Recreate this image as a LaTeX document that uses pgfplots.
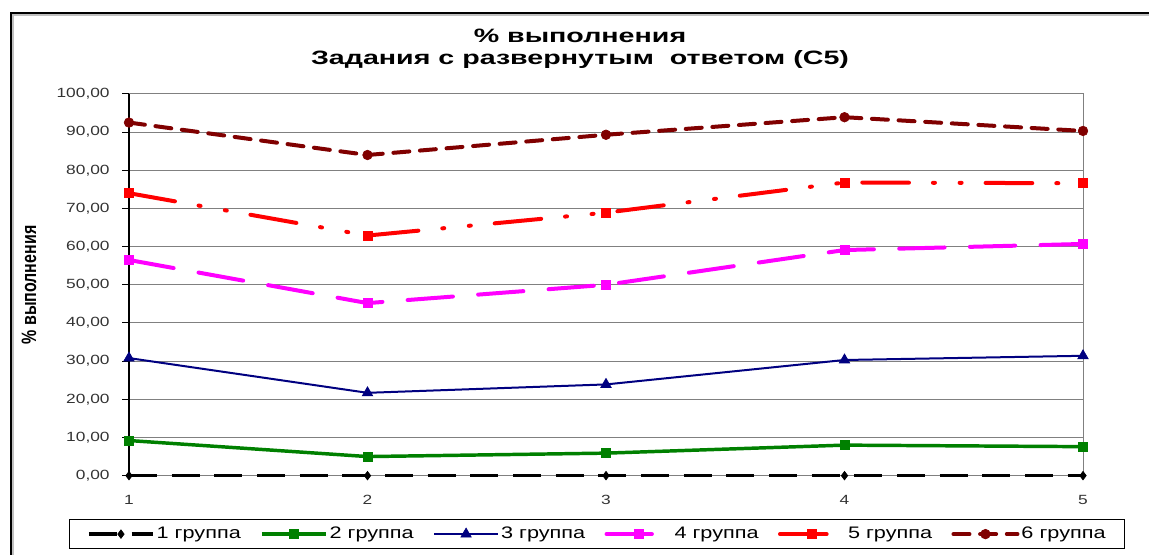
\documentclass[border=0pt]{standalone}
\usepackage{pgfplots}
\pgfplotsset{compat=1.18}
\usepackage{fontspec}
\setmainfont{Liberation Sans}[FakeStretch=1.3]
\newfontfamily\plainfont{Liberation Sans}
\newfontfamily\titlefont{Liberation Sans}[FakeStretch=1.48]
\definecolor{cgreen}{RGB}{0,128,0}
\definecolor{cnavy}{RGB}{0,0,128}
\definecolor{cmag}{RGB}{255,0,255}
\definecolor{cred}{RGB}{255,0,0}
\definecolor{cdred}{RGB}{128,0,0}
\definecolor{cgrid}{RGB}{128,128,128}
\begin{document}
\begin{tikzpicture}
\useasboundingbox (0pt,0pt) rectangle (861.75pt,416.25pt);
% outer frame (left and top)
\draw[cgrid!50, line width=1.5pt] (9.5pt,0pt) -- (9.5pt,405pt) -- (861.75pt,405pt);
\draw[black, line width=2.2pt] (8.25pt,0pt) -- (8.25pt,406.5pt) -- (861.75pt,406.5pt);
% title
\node[align=center, font=\titlefont\bfseries\fontsize{14.5}{16.5}\selectfont] at (435pt,379.5pt)
  {\% выполнения\\Задания с развернутым\ \ ответом (С5)};
% y label
\node[rotate=90, font=\plainfont\bfseries\fontsize{12}{14}\selectfont] at (21.75pt,202.5pt)
  {\scalebox{1}[1.3]{\% выполнения}};
\begin{axis}[
  at={(96.75pt,59.5pt)}, anchor=south west,
  scale only axis, width=715.5pt, height=286.3pt,
  xmin=1, xmax=5, ymin=0, ymax=100,
  xtick={1,2,3,4,5},
  ytick={0,10,...,100},
  ymajorgrids,
  grid style={cgrid, line width=0.75pt},
  axis line style={cgrid, line width=0.75pt},
  tick style={black, line width=0.75pt},
  ytick align=outside, xtick align=outside,
  major tick length=5pt,
  xtick style={draw=none},
  ytick pos=left, xtick pos=bottom,
  tick label style={font=\fontsize{10}{12}\selectfont, text=black!80, /pgf/number format/assume math mode=true},
  yticklabel style={/pgf/number format/fixed, /pgf/number format/fixed zerofill, /pgf/number format/precision=2, /pgf/number format/use comma, xshift=-6pt},
  xticklabel style={yshift=-6pt},
  legend columns=6,
  legend style={at={(0.491,-0.113)}, anchor=north, draw=black, line width=0.75pt,
    font=\fontsize{12.5}{14}\selectfont, inner xsep=13pt, inner ysep=4pt,
    nodes={inner xsep=1.5pt},
    /tikz/every even column/.append style={column sep=13pt}},
  legend image code/.code={\draw[mark repeat=2,mark phase=2,#1] plot coordinates {(0pt,0pt) (24pt,0pt) (48pt,0pt)};},
  clip=false,
]
\addplot[black, line width=2.6pt, dash pattern=on 21pt off 11pt, mark=diamond*, mark size=3.2pt, mark options={solid, line width=0.5pt}]
  coordinates {(1,0) (2,0) (3,0) (4,0) (5,0)};
\addlegendentry{1 группа}
\addplot[cgreen, line width=2.6pt, mark=square*, mark size=3.4pt, mark options={solid, line width=0.5pt}]
  coordinates {(1,9.2) (2,5.0) (3,5.9) (4,8.0) (5,7.6)};
\addlegendentry{2 группа}
\addplot[cnavy, line width=1.5pt, mark=triangle*, mark size=4.5pt, mark options={solid, line width=0.5pt}]
  coordinates {(1,30.8) (2,21.7) (3,23.9) (4,30.3) (5,31.4)};
\addlegendentry{3 группа}
\addplot[cmag, line width=3pt, line cap=round, dash pattern=on 34pt off 19pt, mark=square*, mark size=3.4pt, mark options={solid, line width=0.5pt}]
  coordinates {(1,56.5) (2,45.2) (3,50.0) (4,59.1) (5,60.7)};
\addlegendentry{4 группа}
\addplot[cred, line width=3pt, line cap=round, dash pattern=on 35pt off 18pt on 1.5pt off 18.5pt on 1.5pt off 18pt, mark=square*, mark size=3.4pt, mark options={solid, line width=0.5pt}]
  coordinates {(1,74.0) (2,62.9) (3,68.9) (4,76.8) (5,76.6)};
\addlegendentry{5 группа}
\addplot[cdred, line width=3pt, line cap=round, dash pattern=on 12pt off 8pt, mark=*, mark size=3.6pt, mark options={solid, line width=0.5pt}]
  coordinates {(1,92.5) (2,84.0) (3,89.3) (4,93.9) (5,90.3)};
\addlegendentry{6 группа}
\draw[black, line width=1.5pt] (rel axis cs:0,0) -- (rel axis cs:0,1);
\end{axis}
\end{tikzpicture}
\end{document}
